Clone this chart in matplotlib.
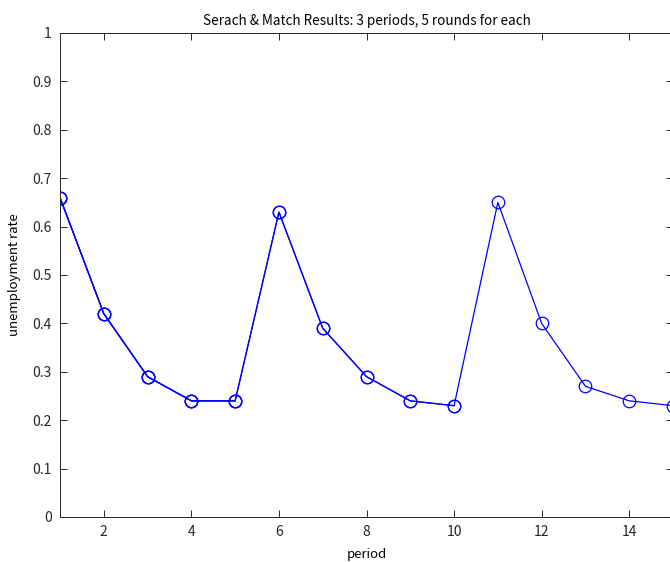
import numpy as np
import matplotlib.pyplot as plt

plt.rcParams['font.family'] = ['Noto Sans CJK JP', 'DejaVu Sans']
plt.rcParams['font.size'] = 10

# unemployment rate per period, 5 rounds in each of 3 periods
round1 = [0.66, 0.42, 0.29, 0.24, 0.24]
round2 = [0.63, 0.39, 0.29, 0.24, 0.23]
round3 = [0.65, 0.40, 0.27, 0.24, 0.23]

# plotted cumulatively (hold on), so the early part overlaps
y1 = np.array(round1)
y2 = np.array(round1 + round2)
y3 = np.array(round1 + round2 + round3)

fig = plt.figure(figsize=(6.7, 5.62), dpi=100)
ax = fig.add_axes([60 / 670, 1 - 517 / 562, 613 / 670, 484 / 562])

for y in (y1, y2, y3):
    ax.plot(np.arange(1, len(y) + 1), y, color='b', lw=0.9, marker='o',
            markersize=9, markerfacecolor='none', markeredgewidth=0.9)

ax.set_xlim(1, 15)
ax.set_ylim(0, 1)
ax.set_xticks(np.arange(2, 15, 2))
ax.set_yticks(np.arange(0, 1.01, 0.1))
ax.set_yticklabels(['0', '0.1', '0.2', '0.3', '0.4', '0.5', '0.6', '0.7', '0.8', '0.9', '1'])
ax.tick_params(direction='in', top=True, right=True, length=5, width=0.7, colors='#262626',
               labelcolor='#262626', pad=6)
for s in ax.spines.values():
    s.set_linewidth(0.7)
    s.set_color('#262626')

ax.set_title('Serach & Match Results: 3 periods, 5 rounds for each', fontsize=9.7, pad=6)
ax.set_xlabel('period', fontsize=9.5, labelpad=6)
ax.set_ylabel('unemployment rate', fontsize=9.5, labelpad=8)

fig.savefig('out.png', dpi=100)
